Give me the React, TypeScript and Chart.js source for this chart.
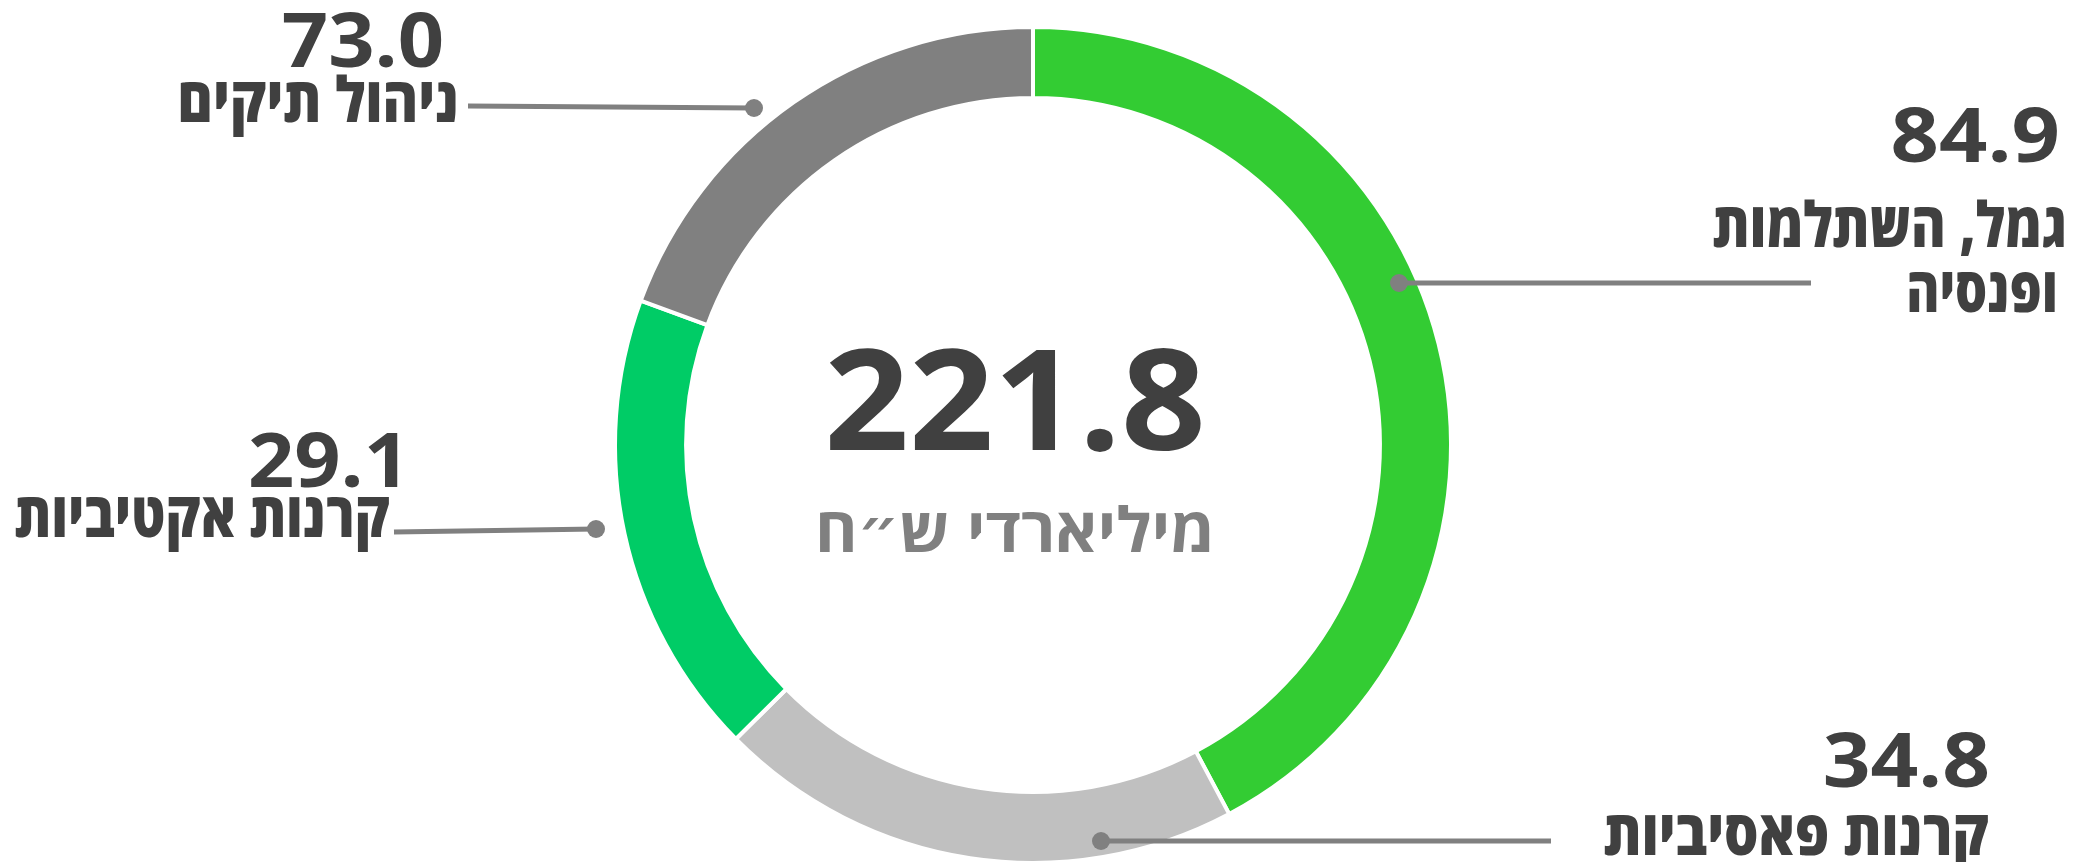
import { useEffect, useRef } from "react";
import { Chart, registerables } from "chart.js";

Chart.register(...registerables);

// ---- data ----
const categories = ["גמל, השתלמות ופנסיה", "קרנות פאסיביות", "קרנות אקטיביות", "ניהול תיקים"];
const labelLines = [["גמל, השתלמות", "ופנסיה"], ["קרנות פאסיביות"], ["קרנות אקטיביות"], ["ניהול תיקים"]];
const values = [84.9, 34.8, 29.1, 73.0]; // billions NIS, as printed
const arcDegrees = [152.0, 73.3, 64.9, 69.8]; // arc sizes as drawn in the picture
const colors = ["#33CC33", "#C0C0C0", "#00CC66", "#808080"];
const totalLabel = "221.8";
const unitLabel = "מיליארדי ש״ח";

// ---- annotation layout (pixels, relative to ring centre) ----
type Ann = {
  dot: [number, number];
  lineEnd: [number, number];
  numX: number;
  numY: number;
  numW: number;
  textXs: number[];
  textYs: number[];
  textWs: number[];
};
const annLayout: Ann[] = [
  { dot: [366, -162], lineEnd: [778, -162], numX: 1027, numY: -283, numW: 165, textXs: [1034, 1025], textYs: [-198, -133], textWs: [351, 146] },
  { dot: [68, 396], lineEnd: [518, 396], numX: 957, numY: 342, numW: 163, textXs: [956], textYs: [410], textWs: [384] },
  { dot: [-437, 84], lineEnd: [-639, 87], numX: -623, numY: 42, numW: 147, textXs: [-643], textYs: [92], textWs: [374] },
  { dot: [-279, -337], lineEnd: [-565, -339], numX: -589, numY: -378, numW: 158, textXs: [-574], textYs: [-323], textWs: [275] },
];

const DARK = "#404040";
const GREY = "#808080";
const NUM_FONT = '"Open Sans", "DejaVu Sans", sans-serif';
const HEB_FONT = '"Open Sans", "DejaVu Sans Condensed", "DejaVu Sans", sans-serif';

function drawFitted(
  ctx: CanvasRenderingContext2D,
  text: string,
  x: number,
  y: number,
  align: CanvasTextAlign,
  dir: CanvasDirection,
  width: number
) {
  ctx.save();
  ctx.direction = dir;
  ctx.textAlign = align;
  ctx.textBaseline = "alphabetic";
  const m = ctx.measureText(text);
  const ink = (m.actualBoundingBoxLeft || 0) + (m.actualBoundingBoxRight || 0) || m.width;
  const sx = width / ink;
  ctx.translate(x, y);
  ctx.scale(sx, 1);
  ctx.fillText(text, 0, 0);
  ctx.restore();
}

const labelsPlugin = {
  id: "donutLabels",
  afterDraw(chart: any) {
    const ctx = chart.ctx as CanvasRenderingContext2D;
    const arc = chart.getDatasetMeta(0).data[0] as any;
    const cx = arc.x;
    const cy = arc.y;
    ctx.save();

    // centre texts
    ctx.fillStyle = DARK;
    ctx.font = `bold 140px ${NUM_FONT}`;
    drawFitted(ctx, totalLabel, cx - 18, cy + 5, "center", "ltr", 372);
    ctx.fillStyle = GREY;
    ctx.font = `bold 62px ${HEB_FONT}`;
    drawFitted(ctx, unitLabel, cx - 18, cy + 107, "center", "rtl", 391);

    annLayout.forEach((a, i) => {
      // leader line
      ctx.strokeStyle = GREY;
      ctx.lineWidth = 5;
      ctx.beginPath();
      ctx.moveTo(cx + a.dot[0], cy + a.dot[1]);
      ctx.lineTo(cx + a.lineEnd[0], cy + a.lineEnd[1]);
      ctx.stroke();
      ctx.fillStyle = GREY;
      ctx.beginPath();
      ctx.arc(cx + a.dot[0], cy + a.dot[1], 9, 0, Math.PI * 2);
      ctx.fill();

      // value
      ctx.fillStyle = DARK;
      ctx.font = `bold 75px ${NUM_FONT}`;
      drawFitted(ctx, values[i].toFixed(1), cx + a.numX, cy + a.numY, "right", "ltr", a.numW);

      // category
      ctx.font = `800 63px ${HEB_FONT}`;
      labelLines[i].forEach((line, j) => {
        drawFitted(ctx, line, cx + a.textXs[j], cy + a.textYs[j], "right", "rtl", a.textWs[j]);
      });
    });
    ctx.restore();
  },
};

export default function App() {
  const ref = useRef<HTMLCanvasElement | null>(null);
  useEffect(() => {
    if (!ref.current) return;
    const chart = new Chart(ref.current, {
      type: "doughnut",
      data: {
        labels: categories,
        datasets: [
          {
            data: arcDegrees,
            backgroundColor: colors,
            borderColor: "#ffffff",
            borderWidth: 4,
            hoverOffset: 0,
          },
        ],
      },
      options: {
        responsive: true,
        maintainAspectRatio: false,
        animation: false,
        radius: 418,
        cutout: "83%",
        layout: { padding: { left: 0, right: 11, top: 28, bottom: 0 } },
        plugins: {
          legend: { display: false },
          tooltip: { enabled: false },
        },
        events: [],
      },
      plugins: [labelsPlugin],
    });
    return () => chart.destroy();
  }, []);
  return (
    <div style={{ position: "absolute", left: 0, top: 0, width: 2077, height: 862, background: "#fff" }}>
      <canvas ref={ref} />
    </div>
  );
}
